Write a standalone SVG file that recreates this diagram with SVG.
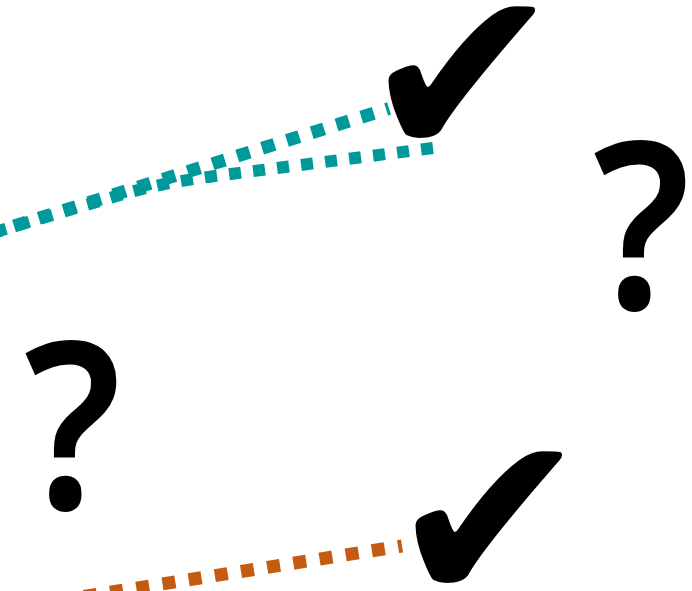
<svg xmlns="http://www.w3.org/2000/svg" width="692" height="591" viewBox="0 0 692 591">
<style>
.bg{fill:#ffffff}
.check{font-family:"DejaVu Sans",sans-serif;font-size:242px;fill:#000000;text-anchor:middle}
.q{font-family:"Noto Sans","Open Sans",sans-serif;font-weight:600;font-size:245px;fill:#000000;text-anchor:middle}
.teal{fill:none;stroke:#009999;stroke-linecap:butt}
.orange{fill:none;stroke:#C55A11;stroke-width:13;stroke-dasharray:13 13.5;stroke-dashoffset:9}
</style>
<rect class="bg" x="0" y="0" width="692" height="591"/>
<g id="connectors">
<path class="teal" d="M389,108.5 L-5,232" stroke-width="13" stroke-dasharray="13 13" stroke-dashoffset="10"/>
<path class="teal" d="M433,148 L215,176 Q160,183 120,195 L-5,232" stroke-width="12" stroke-dasharray="12 12.2"/>
<path class="orange" d="M402,546 L80,597"/>
</g>
<g id="check1"><text class="check" x="462" y="159">✔</text></g>
<g id="check2"><text class="check" x="489" y="604">✔</text></g>
<g id="question1"><text class="q" transform="translate(641.5,309) scale(0.86,0.95)" x="0" y="0">?</text></g>
<g id="question2"><text class="q" transform="translate(72.5,509) scale(0.86,0.95)" x="0" y="0">?</text></g>
</svg>
